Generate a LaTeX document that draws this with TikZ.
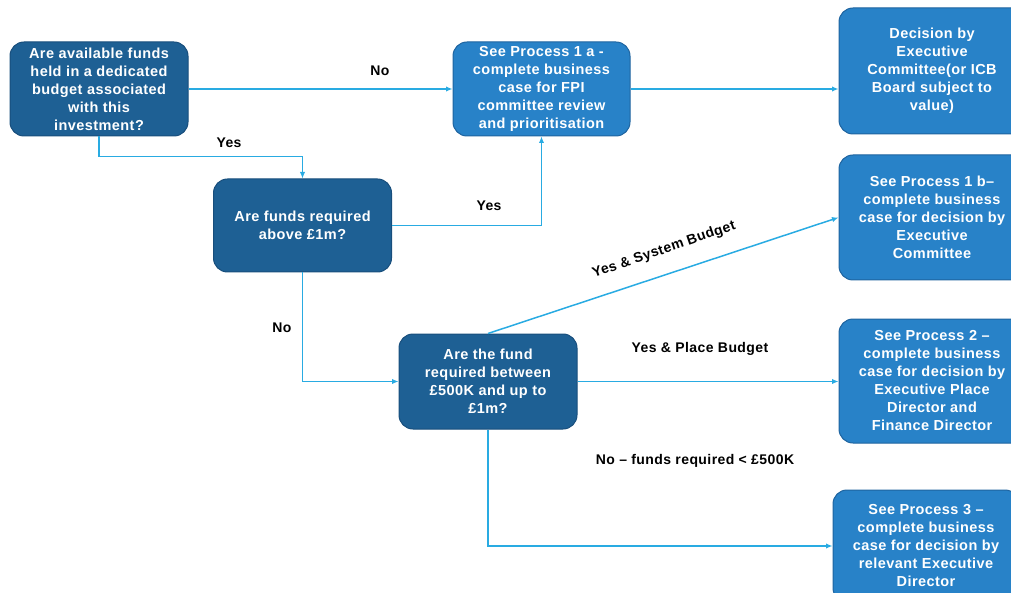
\documentclass[tikz,border=0pt]{standalone}
\usepackage{fontspec}
\setmainfont{Liberation Sans}[LetterSpace=3]
\usepackage{xcolor}
\definecolor{qblue}{RGB}{30,96,148}
\definecolor{qedge}{RGB}{24,78,124}
\definecolor{pblue}{RGB}{40,130,200}
\definecolor{pedge}{RGB}{30,100,160}
\definecolor{lineblue}{RGB}{41,171,226}
\usepackage{tikz}
\usetikzlibrary{arrows.meta,positioning}

\begin{document}
\begin{tikzpicture}[x=1pt,y=-1pt,
  qbox/.style={rectangle,draw=qedge,line width=1pt,rounded corners=14pt,fill=qblue,text=white,minimum width=178pt,minimum height=94pt,inner sep=0pt,align=center,font=\fontsize{14.5}{18}\selectfont\bfseries},
  pbox/.style={qbox,fill=pblue,draw=pedge,minimum width=186pt},
  arrow/.style={-{Latex[length=6.5pt,width=5.5pt]},line width=1.5pt,lineblue},
  lbl/.style={font=\fontsize{14}{16}\selectfont\bfseries}
]
  \useasboundingbox (0,0) rectangle (1011,593);
  \clip (0,0) rectangle (1011,593);

  % Questions
  \node[qbox] (fundsq) at (99,89) {Are available funds\\held in a dedicated\\budget associated\\with this\\investment?};
  \node[qbox,minimum height=93pt] (abovemq) at (302.5,225.5) {Are funds required\\above £1m?};
  \node[qbox,minimum height=95pt] (betweenq) at (488,381.5) {Are the fund\\required between\\£500K and up to\\£1m?};

  % Processes
  \node[pbox,minimum width=177pt] (proc1a) at (541.5,89) {See Process 1 a -\\complete business\\case for FPI\\committee review\\and prioritisation};
  \node[pbox,minimum height=126pt] (decision) at (932,71) {Decision by\\Executive\\Committee(or ICB\\Board subject to\\value)};
  \node[pbox,minimum height=125pt] (proc1b) at (932,217.5) {See Process 1 b–\\complete business\\case for decision by\\Executive\\Committee};
  \node[pbox,minimum height=124pt] (proc2) at (932,381) {See Process 2 –\\complete business\\case for decision by\\Executive Place\\Director and\\Finance Director};
  \node[pbox,minimum height=112pt] (proc3) at (926,546) {See Process 3 –\\complete business\\case for decision by\\relevant Executive\\Director};

  % Arrows
  \draw[arrow] (fundsq) -- (proc1a);
  \draw[arrow] (fundsq.south) -- ++(0,20) -| (abovemq.north);
  \draw[arrow] (abovemq.east) -| (proc1a.south);
  \draw[arrow] (proc1a.east) -- (proc1a.east -| decision.west);
  \draw[arrow] (abovemq.south) |- (betweenq.west);
  \draw[arrow] (betweenq.north) -- (proc1b.west);
  \draw[arrow] (betweenq.east) -- (betweenq.east -| proc2.west);
  \draw[arrow] (betweenq.south) |- (proc3.west);

  % Labels
  \node[lbl] (nofunds) at (380,71) {No};
  \node[lbl] (yesfunds) at (229,143) {Yes};
  \node[lbl] (yesabove) at (489,206) {Yes};
  \node[lbl] (noabove) at (282,328) {No};
  \node[lbl,rotate=19] (yessystem) at (664,250) {Yes \& System Budget};
  \node[lbl] (yesplace) at (700,349) {Yes \& Place Budget};
  \node[lbl] (nolow) at (695,461) {No – funds required < £500K};
\end{tikzpicture}
\end{document}
